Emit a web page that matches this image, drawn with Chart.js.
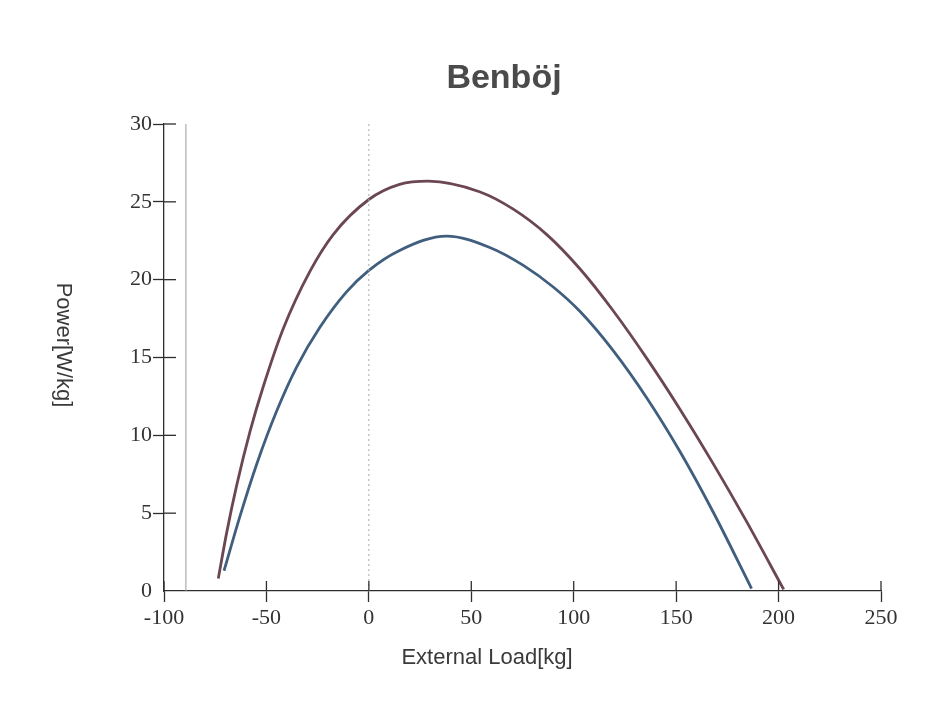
<!DOCTYPE html>
<html>
<head>
<meta charset="utf-8">
<script src="https://cdn.jsdelivr.net/npm/chart.js@4/dist/chart.umd.min.js"></script>
<style>
  html, body { margin: 0; padding: 0; background: #fff; }
  #wrap { width: 938px; height: 707px; }
</style>
</head>
<body>
<div id="wrap"><canvas id="c" width="938" height="707"></canvas></div>
<script>
// values
var redX = [-73.5, -69.4, -64.5, -58, -51.5, -41.8, -28.7, -17.4, 0, 15, 29, 54, 70.5, 87, 103, 119, 136, 152, 168, 184, 202.5];
var redY = [0.8, 3.75, 6.8, 10.25, 13.15, 16.85, 20.55, 22.9, 25.15, 26.12, 26.33, 25.65, 24.53, 22.88, 20.7, 18.05, 14.88, 11.65, 8.2, 4.55, 0.1];

var blueX = [-70.7, -62.9, -54.8, -45, -35.2, -23.9, -11, 0, 15, 38, 59, 75.4, 90, 103, 119, 136, 152, 168, 186.8];
var blueY = [1.3, 4.81, 8.13, 11.56, 14.4, 16.94, 19.2, 20.6, 21.88, 22.8, 22.07, 20.92, 19.53, 17.97, 15.49, 12.34, 8.93, 5.09, 0.16];

var refLineX = [-89.3, -89.3];
var zeroLineX = [0, 0];
var refLineY = [0, 30];

var xTicks = [-100, -50, 0, 50, 100, 150, 200, 250];
var yTicks = [0, 5, 10, 15, 20, 25, 30];

var titleText = 'Benböj';
var xTitle = 'External Load[kg]';
var yTitle = 'Power[W/kg]';

function pts(xs, ys) {
  return xs.map(function(x, i) { return { x: x, y: ys[i] }; });
}

// title, rotated y title and the inner half of the crossing tick marks
var decor = {
  id: 'decor',
  beforeDraw: function(chart) {
    var ctx = chart.ctx;
    ctx.save();
    ctx.fillStyle = '#ffffff';
    ctx.fillRect(0, 0, chart.width, chart.height);
    ctx.restore();
  },
  afterDraw: function(chart) {
    var ctx = chart.ctx;
    var xs = chart.scales.x, ys = chart.scales.y;
    ctx.save();
    ctx.strokeStyle = '#2e2e2e';
    ctx.lineWidth = 1.3;
    ys.ticks.forEach(function(t) {
      if (t.value === 0) return;
      var py = ys.getPixelForValue(t.value);
      ctx.beginPath();
      ctx.moveTo(xs.left, py);
      ctx.lineTo(xs.left + 12, py);
      ctx.stroke();
    });
    xs.ticks.forEach(function(t) {
      var px = xs.getPixelForValue(t.value);
      ctx.beginPath();
      ctx.moveTo(px, ys.bottom);
      ctx.lineTo(px, ys.bottom - 10);
      ctx.stroke();
    });

    ctx.fillStyle = '#4a4a4a';
    ctx.font = 'bold 34px "Liberation Sans", Arial, sans-serif';
    ctx.textAlign = 'center';
    ctx.textBaseline = 'alphabetic';
    ctx.fillText(titleText, 504, 88);

    ctx.fillStyle = '#3a3a3a';
    ctx.font = '22px "Liberation Sans", Arial, sans-serif';
    ctx.fillText(xTitle, 487, 664);

    ctx.translate(57, 345);
    ctx.rotate(Math.PI / 2);
    ctx.fillText(yTitle, 0, 0);
    ctx.restore();
  }
};

function tickCol(c) {
  return (c.tick && c.tick.value === 0 && c.scale.axis === 'y') ? 'rgba(0,0,0,0)' : '#2e2e2e';
}

new Chart(document.getElementById('c'), {
  type: 'line',
  plugins: [decor],
  data: {
    datasets: [
      {
        data: pts(refLineX, refLineY),
        borderColor: '#9a9a9a',
        borderWidth: 1,
        pointRadius: 0,
        tension: 0,
      },
      {
        data: pts(zeroLineX, refLineY),
        borderColor: '#a8a8a8',
        borderWidth: 1,
        borderDash: [2, 3],
        pointRadius: 0,
        tension: 0,
      },
      {
        label: 'red',
        data: pts(redX, redY),
        borderColor: '#6b4752',
        borderWidth: 2.8,
        pointRadius: 0,
        cubicInterpolationMode: 'monotone',
      },
      {
        label: 'blue',
        data: pts(blueX, blueY),
        borderColor: '#405f7e',
        borderWidth: 2.8,
        pointRadius: 0,
        cubicInterpolationMode: 'monotone',
      },
    ],
  },
  options: {
    responsive: false,
    animation: false,
    devicePixelRatio: 1,
    layout: {
      padding: { top: 124, right: 57, left: 0, bottom: 0 },
    },
    scales: {
      x: {
        type: 'linear',
        min: -100,
        max: 250,
        afterFit: function(scale) { scale.height = 116; },
        afterBuildTicks: function(scale) {
          scale.ticks = xTicks.map(function(v) { return { value: v }; });
        },
        border: { color: '#2e2e2e', width: 1.3 },
        grid: {
          drawOnChartArea: false,
          drawTicks: true,
          tickLength: 11,
          tickColor: tickCol,
          tickWidth: 1.3,
        },
        ticks: {
          color: '#333',
          padding: 3,
          maxRotation: 0,
          font: { family: '"Liberation Serif", "Times New Roman", serif', size: 22 },
        },
      },
      y: {
        type: 'linear',
        min: 0,
        max: 30,
        afterFit: function(scale) { scale.width = 164; },
        afterBuildTicks: function(scale) {
          scale.ticks = yTicks.map(function(v) { return { value: v }; });
        },
        border: { color: '#2e2e2e', width: 1.3 },
        grid: {
          drawOnChartArea: false,
          drawTicks: true,
          tickLength: 11,
          tickColor: tickCol,
          tickWidth: 1.3,
        },
        ticks: {
          color: '#333',
          padding: 1,
          font: { family: '"Liberation Serif", "Times New Roman", serif', size: 22 },
        },
      },
    },
    plugins: {
      legend: { display: false },
      tooltip: { enabled: false },
      title: { display: false },
    },
  },
});
</script>
</body>
</html>
